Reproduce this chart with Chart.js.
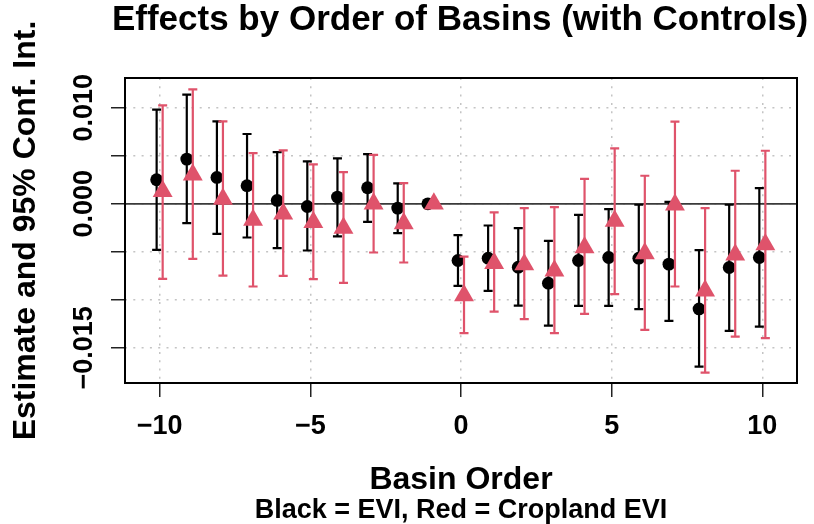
<!DOCTYPE html>
<html>
<head>
<meta charset="utf-8">
<script src="https://cdn.jsdelivr.net/npm/chart.js@4/dist/chart.umd.min.js"></script>
<style>
  html, body { margin: 0; padding: 0; background: #fff; }
  #wrap { width: 814px; height: 524px; }
</style>
</head>
<body>
<div id="wrap"><canvas id="myChart" width="814" height="524"></canvas></div>
<script>
const basinOrder = [-10, -9, -8, -7, -6, -5, -4, -3, -2, -1, 0, 1, 2, 3, 4, 5, 6, 7, 8, 9, 10];

// black = EVI
const eviEst = [0.0025, 0.00465, 0.00274, 0.00188, 0.00035, -0.00028, 0.0007, 0.00167, -0.00045, 0,
  -0.0059, -0.00566, -0.0066, -0.00826, -0.0059, -0.00559, -0.00566, -0.00628, -0.01094, -0.00663, -0.00559];
const eviLow = [-0.00479, -0.00201, -0.00313, -0.00351, -0.00462, -0.00486, -0.0034, -0.00188, -0.00306, null,
  -0.00854, -0.00906, -0.01059, -0.01267, -0.01063, -0.01063, -0.01097, -0.01219, -0.01694, -0.01323, -0.01278];
const eviHigh = [0.00979, 0.01135, 0.00858, 0.00726, 0.00538, 0.00441, 0.00472, 0.00517, 0.00212, null,
  -0.00326, -0.00226, -0.00253, -0.00385, -0.00115, -0.00056, -0.0001, 0.0002, -0.00483, -0.0001, 0.00163];

// red = Cropland EVI
const cropEst = [0.0013, 0.00302, 0.00049, -0.0017, -0.00104, -0.00191, -0.00253, 0.0000, -0.00205, 0,
  -0.00955, -0.00618, -0.00632, -0.00698, -0.00455, -0.0018, -0.00517, -0.0001, -0.00906, -0.00531, -0.00424];
const cropLow = [-0.00781, -0.00573, -0.00747, -0.00861, -0.0075, -0.00785, -0.00823, -0.00507, -0.00611, null,
  -0.01347, -0.01122, -0.01201, -0.01347, -0.01146, -0.00941, -0.01313, -0.00861, -0.01757, -0.01382, -0.01399];
const cropHigh = [0.01024, 0.0119, 0.00858, 0.00528, 0.00556, 0.0041, 0.0033, 0.0051, 0.00215, null,
  -0.00549, -0.0009, -0.00045, -0.00035, 0.0026, 0.00576, 0.00292, 0.00854, -0.00045, 0.00344, 0.00552];

const yTickValues = [0.010, 0.000, -0.015];
const yTickLabels = ['0.010', '0.000', '\u22120.015'];

const RED = '#DF536B';
const FONT = '"Liberation Sans", Arial, Helvetica, sans-serif';

const pts = (est, shift) => est.map((v, i) => ({x: basinOrder[i] + shift, y: v}));

// error bars drawn just before each dataset's own points
const errorBars = {
  id: 'errorBars',
  beforeDatasetDraw(chart, args) {
    const ds = chart.data.datasets[args.index];
    const {ctx, scales: {x, y}} = chart;
    ctx.save();
    ctx.strokeStyle = ds.barColor;
    ctx.lineWidth = 2.2;
    ds.data.forEach((p, i) => {
      if (ds.low[i] == null) return;
      const px = x.getPixelForValue(p.x);
      const y1 = y.getPixelForValue(ds.low[i]);
      const y2 = y.getPixelForValue(ds.high[i]);
      ctx.beginPath();
      ctx.moveTo(px, y1); ctx.lineTo(px, y2);
      ctx.moveTo(px - 4.5, y1); ctx.lineTo(px + 4.5, y1);
      ctx.moveTo(px - 4.5, y2); ctx.lineTo(px + 4.5, y2);
      ctx.stroke();
    });
    ctx.restore();
  }
};

const extras = {
  id: 'extras',
  beforeDatasetsDraw(chart) {
    const {ctx, chartArea: a, scales: {y}} = chart;
    const y0 = y.getPixelForValue(0);
    ctx.save();
    ctx.strokeStyle = '#3a3a3a';
    ctx.lineWidth = 1.8;
    ctx.beginPath();
    ctx.moveTo(a.left, y0); ctx.lineTo(a.right, y0);
    ctx.stroke();
    ctx.restore();
  },
  afterDraw(chart) {
    const {ctx, chartArea: a, scales: {y}} = chart;
    ctx.save();
    ctx.strokeStyle = '#000';
    ctx.lineWidth = 2;
    ctx.strokeRect(a.left, a.top, a.right - a.left, a.bottom - a.top);

    ctx.fillStyle = '#000';
    ctx.font = 'bold 35px ' + FONT;
    ctx.textAlign = 'center';
    ctx.textBaseline = 'middle';
    ctx.fillText('Effects by Order of Basins (with Controls)', (a.left + a.right) / 2 - 1, 20);

    ctx.font = 'bold 27px ' + FONT;
    yTickValues.forEach((v, i) => {
      ctx.save();
      ctx.translate(85, y.getPixelForValue(v));
      ctx.rotate(-Math.PI / 2);
      ctx.fillText(yTickLabels[i], 0, 0);
      ctx.restore();
    });
    ctx.restore();
  }
};

const ctx = document.getElementById('myChart').getContext('2d');
let myChart = new Chart(ctx, {
  type: 'scatter',
  data: {
    datasets: [
      {
        label: 'Cropland EVI',
        data: pts(cropEst, 0.1),
        low: cropLow, high: cropHigh, barColor: RED,
        pointStyle: 'triangle',
        pointRadius: 11.5,
        pointHoverRadius: 11.5,
        backgroundColor: RED,
        borderWidth: 0
      },
      {
        label: 'EVI',
        data: pts(eviEst, -0.1),
        low: eviLow, high: eviHigh, barColor: '#000',
        pointStyle: 'circle',
        pointRadius: 6.4,
        pointHoverRadius: 6.4,
        backgroundColor: '#000',
        borderWidth: 0
      }
    ]
  },
  options: {
    responsive: false,
    animation: false,
    events: [],
    layout: { padding: { top: 78, right: 17, left: 0, bottom: 0 } },
    plugins: {
      legend: { display: false },
      tooltip: { enabled: false },
      title: { display: false },
      subtitle: {
        display: true,
        position: 'bottom',
        fullSize: false,
        text: 'Black = EVI, Red = Cropland EVI',
        color: '#000',
        font: { family: FONT, size: 27, weight: 'bold', lineHeight: 1 },
        padding: { top: 0, bottom: 0 }
      }
    },
    scales: {
      x: {
        type: 'linear',
        min: -11.15,
        max: 11.15,
        afterFit: s => { s.height = 114; },
        ticks: {
          stepSize: 5,
          includeBounds: false,
          color: '#000',
          padding: 16.5,
          font: { family: FONT, size: 27, weight: 'bold', lineHeight: 1 },
          callback: v => String(v).replace('-', '\u2212')
        },
        grid: {
          color: '#c4c4c4',
          lineWidth: 1.5,
          tickLength: 14,
          tickColor: '#222',
          tickWidth: 1.5,
          tickBorderDash: []
        },
        border: { display: false, dash: [2, 6.3] },
        title: {
          display: true,
          text: 'Basin Order',
          color: '#000',
          font: { family: FONT, size: 32, weight: 'bold', lineHeight: 1 },
          padding: { top: 0, bottom: 1 }
        }
      },
      y: {
        min: -0.01865,
        max: 0.01309,
        afterFit: s => { s.width = 125; },
        ticks: {
          stepSize: 0.005,
          includeBounds: false,
          display: false
        },
        grid: {
          color: '#c4c4c4',
          lineWidth: 1.5,
          tickLength: 14,
          tickColor: '#222',
          tickWidth: 1.5,
          tickBorderDash: []
        },
        border: { display: false, dash: [2, 6.3] },
        title: {
          display: true,
          text: 'Estimate and 95% Conf. Int.',
          color: '#000',
          font: { family: FONT, size: 32, weight: 'bold', lineHeight: 1 },
          padding: { top: 10, bottom: 0 }
        }
      }
    }
  },
  plugins: [errorBars, extras]
});
</script>
</body>
</html>
